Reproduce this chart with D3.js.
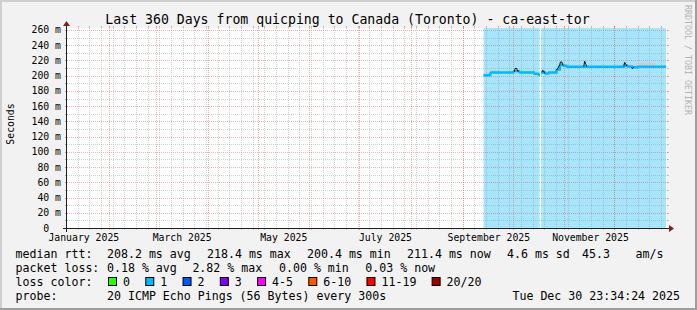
<!DOCTYPE html>
<html><head><meta charset="utf-8">
<script src="https://cdn.jsdelivr.net/npm/d3@7"></script>
<style>
html,body{margin:0;padding:0;background:#f2f2f2;}
svg{display:block;}
text{font-family:"DejaVu Sans Mono",monospace;fill:#000;}
</style>
</head><body>
<svg id="c" width="697" height="310"></svg>
<script>
// ---------------- data ----------------
const title = "Last 360 Days from quicping to Canada (Toronto) - ca-east-tor";
const yAxisTitle = "Seconds";
const watermark = "RRDTOOL / TOBI OETIKER";
const graphEnd = "2025-12-31 22:00:00";
const spanDays = 360;
const yMax = 262.6;

const yTickValues = [0, 20, 40, 60, 80, 100, 120, 140, 160, 180, 200, 220, 240, 260];
const yTickLabels = ["0  ", "20 m", "40 m", "60 m", "80 m", "100 m", "120 m", "140 m", "160 m", "180 m", "200 m", "220 m", "240 m", "260 m"];
const xLabelMonths = ["2025-01-01", "2025-03-01", "2025-05-01", "2025-07-01", "2025-09-01", "2025-11-01"];
const xLabels = ["January 2025", "March 2025", "May 2025", "July 2025", "September 2025", "November 2025"];

// periods with data (light blue background)
const periodStarts = ["2025-09-12 20:00", "2025-10-17 10:00"];
const periodEnds   = ["2025-10-16 12:00", "2025-12-31 09:00"];

// median rtt (ms), step series; loss category per point
const medianTimes = ["2025-09-12 20:00","2025-09-16 20:00","2025-09-30 14:00","2025-10-04 02:00","2025-10-13 00:00","2025-10-15 12:00","2025-10-16 00:00","2025-10-16 12:00",
  "2025-10-17 10:00","2025-10-19 14:00","2025-10-21 14:00","2025-10-26 14:00","2025-10-28 14:00","2025-10-30 14:00","2025-11-01 10:00","2025-12-06 00:00","2025-12-08 00:00","2025-12-11 00:00","2025-12-14 00:00","2025-12-31 09:00"];
const medianValues = [200.6,204.2,206,204.2,202.5,201,200,null,
  204.2,202.8,204.2,208,214,213,211.8,213,212,211,211.8,211.8];
const medianLoss = [1,1,1,1,1,1,0,0, 1,1,1,1,1,1,1,1,1,1,1,1];

// smoke (min / max of pings)
const smokeTimes = ["2025-09-12 20:00","2025-09-16 20:00","2025-09-21 12:00","2025-10-13 00:00","2025-10-16 12:00",
  "2025-10-17 10:00","2025-10-26 10:00","2025-10-28 00:00","2025-10-30 14:00","2025-11-01 10:00","2025-12-05 00:00","2025-12-09 00:00","2025-12-14 00:00","2025-12-25 00:00","2025-12-31 09:00"];
const smokeLow  = [199.5,203,203.5,201.5,null, 202.5,206,212,211,210.5,210.5,210,210.5,210.5,210.5];
const smokeHigh = [202,207,205.5,203.5,null, 205.5,210,216,214,213,215,214.5,217,213,213];

// ping spikes (dark)
const spikeTimes  = ["2025-10-01 06:00","2025-10-01 18:00","2025-10-02 18:00","2025-10-03 06:00","2025-10-04 00:00",null,
  "2025-10-17 20:00","2025-10-18 06:00","2025-10-19 00:00","2025-10-19 12:00",null,
  "2025-10-26 12:00","2025-10-27 12:00","2025-10-28 12:00","2025-10-29 00:00","2025-10-29 18:00","2025-10-30 12:00",null,
  "2025-11-12 00:00","2025-11-12 12:00","2025-11-13 06:00","2025-11-13 18:00",null,
  "2025-12-06 00:00","2025-12-06 12:00","2025-12-07 12:00","2025-12-08 00:00",null,
  "2025-12-10 12:00","2025-12-11 00:00","2025-12-12 00:00"];
const spikeValues = [205,209.5,209.5,206,206,null,
  204.5,207,206,203,null,
  207,210,214,218,218,213.5,null,
  212,219,215,212,null,
  212.5,217.5,214,212.5,null,
  211,209.5,211];

const legendRtt  = ["208.2 ms avg", "218.4 ms max", "200.4 ms min", "211.4 ms now", "4.6 ms sd", "45.3", "am/s"];
const legendLoss = ["0.18 % avg", "2.82 % max", "0.00 % min", "0.03 % now"];
const lossLabels = ["0", "1", "2", "3", "4-5", "6-10", "11-19", "20/20"];
const lossColors = ["#26ff00", "#00b8ff", "#0059ff", "#7e00ff", "#ff00ff", "#ff5500", "#ff0000", "#a10000"];
const probeText = "20 ICMP Echo Pings (56 Bytes) every 300s";
const stampText = "Tue Dec 30 23:34:24 2025";

// ---------------- drawing ----------------
const W = 697, H = 310;
const X0 = 67, X1 = 667, Y0 = 228, Y1 = 28;
const parse = d3.timeParse("%Y-%m-%d %H:%M");
const parseS = d3.timeParse("%Y-%m-%d %H:%M:%S");
const parseD = d3.timeParse("%Y-%m-%d");
const tEnd = parseS(graphEnd);
const tStart = d3.timeDay.offset(tEnd, -spanDays);

const x = d3.scaleTime().domain([tStart, tEnd]).range([X0, X1]);
const y = d3.scaleLinear().domain([0, yMax]).range([Y0, Y1]);
const cx = v => Math.round(v) - 0.5;
const cy = v => Math.round(v) + 0.5;

const svg = d3.select("#c");
svg.append("rect").attr("width", W).attr("height", H).attr("fill", "#f2f2f2");
// 3D frame
svg.append("rect").attr("x", 0).attr("y", 0).attr("width", W).attr("height", 2).attr("fill", "#cfcfcf");
svg.append("rect").attr("x", 0).attr("y", 0).attr("width", 2).attr("height", H).attr("fill", "#cfcfcf");
svg.append("rect").attr("x", 0).attr("y", H - 2).attr("width", W).attr("height", 2).attr("fill", "#9e9e9e");
svg.append("rect").attr("x", W - 2).attr("y", 0).attr("width", 2).attr("height", H).attr("fill", "#9e9e9e");

// canvas
svg.append("rect").attr("x", X0).attr("y", Y1).attr("width", X1 - X0).attr("height", Y0 - Y1).attr("fill", "#ffffff");

// data-present background
const periods = periodStarts.map((s, i) => ({s: parse(s), e: parse(periodEnds[i])}));
svg.append("g").selectAll("rect").data(periods).join("rect")
  .attr("x", d => x(d.s)).attr("width", d => x(d.e) - x(d.s))
  .attr("y", Y1).attr("height", Y0 - Y1).attr("fill", "#a7e5fc");

// grid
const gGrid = svg.append("g").attr("shape-rendering", "crispEdges");
const GRID = "rgba(143,143,143,0.42)", MGRID = "rgba(222,79,79,0.45)";
// horizontal
yTickValues.concat(d3.range(10, yMax, 20)).forEach(v => {
  if (v === 0) return;
  const major = v % 20 === 0;
  const col = major ? MGRID : GRID;
  const yy = cy(y(v));
  gGrid.append("line").attr("x1", X0 - 2).attr("x2", X1 + 2).attr("y1", yy).attr("y2", yy)
    .attr("stroke", col).attr("stroke-dasharray", "1,1");
  gGrid.append("line").attr("x1", X0 - 2).attr("x2", X0).attr("y1", yy).attr("y2", yy).attr("stroke", col);
  gGrid.append("line").attr("x1", X1).attr("x2", X1 + 2).attr("y1", yy).attr("y2", yy).attr("stroke", col);
});
// vertical: weekly minor, monthly major
const weeks = d3.timeMonday.range(tStart, tEnd);
const months = d3.timeMonth.range(tStart, tEnd);
function vline(t, col) {
  const xx = cx(x(t));
  gGrid.append("line").attr("x1", xx).attr("x2", xx).attr("y1", Y1 - 2).attr("y2", Y0 + 2)
    .attr("stroke", col).attr("stroke-dasharray", "1,1");
  gGrid.append("line").attr("x1", xx).attr("x2", xx).attr("y1", Y1 - 2).attr("y2", Y1).attr("stroke", col);
  gGrid.append("line").attr("x1", xx).attr("x2", xx).attr("y1", Y0).attr("y2", Y0 + 2).attr("stroke", col);
}
weeks.forEach(t => vline(t, GRID));
months.forEach(t => vline(t, MGRID));

// smoke
const smoke = smokeTimes.map((t, i) => ({t: parse(t), lo: smokeLow[i], hi: smokeHigh[i]}));
svg.append("path").datum(smoke)
  .attr("d", d3.area().defined(d => d.lo != null).curve(d3.curveStepAfter)
    .x(d => x(d.t)).y0(d => y(d.lo)).y1(d => y(d.hi)))
  .attr("fill", "#cdcdcd");

// median line colored by loss
const med = medianTimes.map((t, i) => ({t: parse(t), v: medianValues[i], l: medianLoss[i]}));
const segs = [];
for (let i = 0; i < med.length - 1; i++) {
  if (med[i].v == null) continue;
  segs.push({a: med[i], b: med[i + 1]});
}
const gMed = svg.append("g");
segs.forEach(s => {
  const pts = [[x(s.a.t), y(s.a.v)], [x(s.b.t), y(s.a.v)]];
  if (s.b.v != null) pts.push([x(s.b.t), y(s.b.v)]);
  gMed.append("path").attr("d", d3.line()(pts))
    .attr("fill", "none").attr("stroke", lossColors[s.a.l]).attr("stroke-width", 2.4);
});

// spikes
const spikes = spikeTimes.map((t, i) => ({t: t ? parse(t) : null, v: spikeValues[i]}));
svg.append("path").datum(spikes)
  .attr("d", d3.line().defined(d => d.t != null && d.v != null).x(d => x(d.t)).y(d => y(d.v)))
  .attr("fill", "none").attr("stroke", "#111").attr("stroke-width", 1);

// axes
svg.append("line").attr("x1", X0 - 4).attr("x2", X1 + 4).attr("y1", Y0 + 0.5).attr("y2", Y0 + 0.5)
  .attr("stroke", "#1f1f1f").attr("shape-rendering", "crispEdges");
svg.append("line").attr("x1", X0 - 0.5).attr("x2", X0 - 0.5).attr("y1", Y0 + 4).attr("y2", Y1 - 4)
  .attr("stroke", "#1f1f1f").attr("shape-rendering", "crispEdges");
svg.append("path").attr("d", `M${X1 + 2},${Y0 - 3}L${X1 + 2},${Y0 + 4}L${X1 + 7},${Y0 + 0.5}Z`).attr("fill", "#801f1f");
svg.append("path").attr("d", `M${X0 - 4},${Y1 - 2}L${X0 + 3},${Y1 - 2}L${X0 - 0.5},${Y1 - 7}Z`).attr("fill", "#801f1f");

// y labels
svg.append("g").selectAll("text").data(yTickValues).join("text")
  .attr("x", 61).attr("y", v => y(v) + 3.5)
  .attr("text-anchor", "end").attr("font-size", "9.8px").attr("xml:space", "preserve")
  .text((v, i) => yTickLabels[i]);
// x labels (centered mid-month)
svg.append("g").selectAll("text").data(xLabelMonths).join("text")
  .attr("x", m => x(d3.timeDay.offset(parseD(m), 15)))
  .attr("y", 241).attr("text-anchor", "middle").attr("font-size", "9.8px")
  .text((m, i) => xLabels[i]);

// titles
svg.append("text").attr("x", 347.5).attr("y", 24).attr("text-anchor", "middle")
  .attr("font-size", "13.2px").text(title);
svg.append("text").attr("transform", "translate(13.5,124) rotate(-90)")
  .attr("text-anchor", "middle").attr("font-size", "9.8px").text(yAxisTitle);
svg.append("text").attr("transform", "translate(685,5) rotate(90)")
  .attr("font-size", "8.3px").style("fill", "#b3b3b3").text(watermark);

// legend
const LF = "11.6px", LX = 15.6;
const rows = [258, 272, 286, 300];
const lg = svg.append("g").attr("font-size", LF);
lg.append("text").attr("x", LX).attr("y", rows[0]).text("median rtt:");
const rttX = [107, 207, 307, 407, 507, 582, 635.6];
legendRtt.forEach((s, i) => lg.append("text").attr("x", rttX[i]).attr("y", rows[0]).text(s));
lg.append("text").attr("x", LX).attr("y", rows[1]).text("packet loss:");
const lossX = [107, 192.4, 279, 365.3];
legendLoss.forEach((s, i) => lg.append("text").attr("x", lossX[i]).attr("y", rows[1]).text(s));
lg.append("text").attr("x", LX).attr("y", rows[2]).text("loss color:");
let bx = 108;
lossLabels.forEach((s, i) => {
  lg.append("rect").attr("x", bx + 0.5).attr("y", rows[2] - 8.5).attr("width", 8).attr("height", 8)
    .attr("fill", lossColors[i]).attr("stroke", "#000").attr("stroke-width", 1);
  lg.append("text").attr("x", bx + 15).attr("y", rows[2]).text(s);
  bx += 30.3 + 6.97 * s.length;
});
lg.append("text").attr("x", LX).attr("y", rows[3]).text("probe:");
lg.append("text").attr("x", 107).attr("y", rows[3]).text(probeText);
lg.append("text").attr("x", 680).attr("y", rows[3]).attr("text-anchor", "end").text(stampText);
</script>
</body></html>
